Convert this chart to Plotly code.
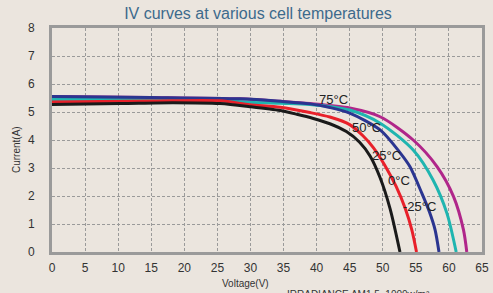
import plotly.graph_objects as go

# Voltage (V) / Current (A) samples
v_m25 = [0, 14.8, 28.4, 34.5, 39.0, 45.0, 49.6, 54.6, 58.2, 60.7, 62.2, 62.7]
i_m25 = [5.55, 5.52, 5.47, 5.38, 5.30, 5.14, 4.83, 4.00, 3.05, 1.98, 0.79, 0]

v_0 = [0, 14.8, 25.4, 29.9, 34.5, 39.0, 45.0, 49.6, 54.6, 57.6, 59.7, 61.1]
i_0 = [5.45, 5.45, 5.42, 5.35, 5.31, 5.27, 5.07, 4.60, 3.64, 2.57, 1.38, 0]

v_25 = [0, 14.8, 28.4, 34.5, 39.0, 42.0, 45.0, 49.6, 52.6, 54.1, 55.9, 57.1, 57.9, 58.5]
i_25 = [5.55, 5.52, 5.47, 5.38, 5.29, 5.16, 4.96, 4.36, 3.55, 3.05, 2.10, 1.40, 0.80, 0]

v_50 = [0, 14.8, 25.4, 29.9, 34.5, 39.0, 42.0, 45.0, 47.0, 48.6, 50.3, 52.0, 53.4, 54.4, 55.1]
i_50 = [5.36, 5.39, 5.40, 5.26, 5.17, 4.98, 4.82, 4.55, 4.15, 3.72, 3.10, 2.35, 1.55, 0.78, 0]

v_75 = [0, 10.3, 18.3, 25.4, 29.9, 34.5, 37.0, 39.5, 42.0, 44.5, 46.5, 48.1, 49.6, 51.1, 52.6]
i_75 = [5.27, 5.30, 5.33, 5.30, 5.19, 5.05, 4.92, 4.77, 4.58, 4.30, 3.92, 3.42, 2.65, 1.55, 0]

series_names = ["-25°C", "0°C", "25°C", "50°C", "75°C"]
series_colors = ["#b0268a", "#1fb5b0", "#2b3590", "#e8202a", "#1a1a1a"]

label_text = ["75°C", "50°C", "25°C", "0°C", "-25°C"]
label_v = [42.5, 47.6, 50.5, 52.5, 55.6]
label_i = [5.46, 4.46, 3.43, 2.57, 1.64]

x_ticks = list(range(0, 70, 5))
y_ticks = list(range(0, 9))

BG = "#ebe5de"
FONT = "Liberation Sans, Arial, sans-serif"

W, H = 493, 293
L, R, T, B = 52, 11, 28, 41
PW, PH = W - L - R, H - T - B

fig = go.Figure()
data = [(v_m25, i_m25), (v_0, i_0), (v_25, i_25), (v_50, i_50), (v_75, i_75)]
for (vx, iy), name, col in zip(data, series_names, series_colors):
    fig.add_trace(go.Scatter(
        x=vx, y=iy, mode="lines", name=name,
        line=dict(color=col, width=3, shape="spline", smoothing=0.8),
        showlegend=False, hoverinfo="skip",
    ))

for t, vx, iy in zip(label_text, label_v, label_i):
    fig.add_annotation(x=vx, y=iy, text=t, showarrow=False,
                       font=dict(family=FONT, size=13, color="#222222"))

fig.add_annotation(text="Voltage(V)", xref="paper", yref="paper",
                   x=(245 - L) / PW, y=-(283 - (H - B)) / PH, showarrow=False,
                   xanchor="center", yanchor="middle",
                   font=dict(family=FONT, size=10, color="#333333"))
fig.add_annotation(text="Current(A)", xref="paper", yref="paper",
                   x=-(L - 16) / PW, y=((H - B) - 150) / PH, showarrow=False,
                   textangle=-90, xanchor="center", yanchor="middle",
                   font=dict(family=FONT, size=10, color="#333333"))
fig.add_annotation(text="IRRADIANCE AM1.5, 1000w/m²", xref="paper", yref="paper",
                   x=(285 - L) / PW, y=-(287 - (H - B)) / PH, xanchor="left",
                   yanchor="top", showarrow=False,
                   font=dict(family=FONT, size=10, color="#333333"))

fig.update_layout(
    width=W, height=H,
    margin=dict(l=L, r=R, t=T, b=B, autoexpand=False),
    paper_bgcolor=BG, plot_bgcolor=BG,
    title=dict(text="IV curves at various cell temperatures", x=258 / W,
               xanchor="center", y=1 - 13 / H, yanchor="middle",
               font=dict(family=FONT, size=16, color="#3d6a8c")),
    font=dict(family=FONT, size=12, color="#333333"),
)
fig.update_xaxes(range=[0, 65], tickvals=x_ticks, showgrid=True,
                 gridcolor="#9a9a9a", griddash="3px,2px", gridwidth=1,
                 showline=True, linecolor="#9a9a9a", linewidth=3, mirror=True,
                 zeroline=False, ticks="", ticklabelstandoff=3, automargin=False,
                 tickfont=dict(family=FONT, size=12, color="#333333"))
fig.update_yaxes(range=[0, 8], tickvals=y_ticks, showgrid=True,
                 gridcolor="#9a9a9a", griddash="3px,2px", gridwidth=1,
                 showline=True, linecolor="#9a9a9a", linewidth=3, mirror=True,
                 zeroline=False, ticks="", ticklabelstandoff=12, automargin=False,
                 tickfont=dict(family=FONT, size=12, color="#333333"))

fig.write_html("out.html",
               config={"displayModeBar": False, "staticPlot": True},
               post_script="document.body.style.margin='0';"
                           "document.body.style.background='%s';" % BG)
